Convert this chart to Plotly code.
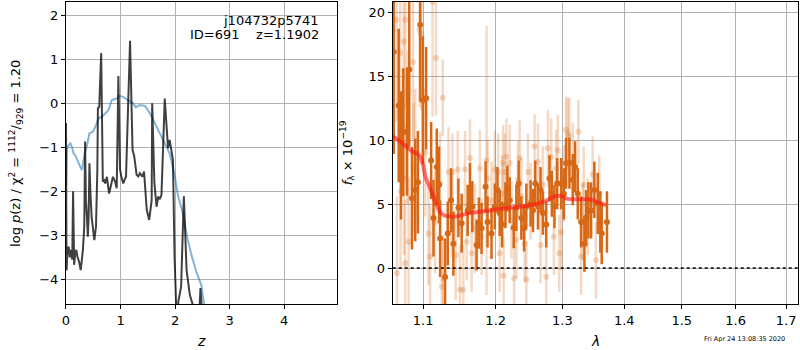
import plotly.graph_objects as go
import math

# ---------------- left panel: redshift PDF ----------------
z_pdf = [0.000, 0.010, 0.030, 0.050, 0.070, 0.090, 0.115, 0.130, 0.150, 0.170, 0.190, 0.210,
         0.240, 0.270, 0.310, 0.335, 0.350, 0.365, 0.385, 0.400, 0.415, 0.430, 0.450, 0.470,
         0.500, 0.520, 0.550, 0.575, 0.585, 0.610, 0.645, 0.675, 0.700, 0.720, 0.750, 0.790,
         0.820, 0.860, 0.900, 0.930, 0.960, 0.990, 1.020, 1.050, 1.080, 1.100, 1.174, 1.220,
         1.250, 1.265, 1.295, 1.325, 1.355, 1.400, 1.430, 1.450, 1.480, 1.525, 1.555, 1.570,
         1.580, 1.620, 1.660, 1.690, 1.720, 1.750, 1.810, 1.870, 1.900, 1.930, 1.960, 1.990,
         2.010, 2.030, 2.060, 2.090, 2.110, 2.160, 2.210, 2.270, 2.330, 2.380, 2.440, 2.465,
         2.490, 2.520, 2.600]
logp = [-0.45, -3.80, -3.30, -3.26, -3.50, -3.33, -3.55, -2.00, -3.67, -3.40, -3.33, -3.49,
        -3.60, -3.79, -3.33, -2.80, -0.87, -2.20, -2.60, -3.03, -2.60, -1.36, -2.10, -2.58,
        -2.90, -3.11, -2.80, -1.50, -0.11, -0.08, 1.14, -1.78, -1.75, -1.82, -1.67, -2.05,
        -1.89, -1.67, -1.78, -1.93, 0.62, -1.50, -1.70, -1.82, -1.72, -1.67, 1.42, -1.06,
        -1.20, -1.40, -1.63, -1.66, -1.59, -1.67, -1.55, -1.89, -2.42, -2.65, -2.40, -2.20,
        0.00, -1.80, -2.35, -2.12, -2.18, -2.08, 0.11, -1.02, -0.83, -1.10, -1.29, -3.50,
        -4.60, -5.00, -4.50, -4.24, -4.17, -2.11, -3.79, -4.36, -4.60, -4.80, -4.80, -4.20,
        -4.70, -6.00, -8.00]

z_prior = [0.000, 0.010, 0.020, 0.050, 0.080, 0.110, 0.140, 0.170, 0.200, 0.240, 0.290, 0.320,
           0.350, 0.380, 0.430, 0.490, 0.540, 0.600, 0.690, 0.780, 0.840, 0.930, 0.990, 1.050,
           1.140, 1.230, 1.280, 1.350, 1.450, 1.540, 1.660, 1.780, 1.900, 1.990, 2.050, 2.150,
           2.210, 2.300, 2.390, 2.480, 2.540, 2.570]
logp_prior = [-1.90, -1.30, -1.02, -0.95, -0.91, -1.00, -1.14, -1.18, -1.25, -1.38, -1.52, -1.30,
              -1.10, -0.99, -0.68, -0.65, -0.53, -0.34, -0.27, -0.15, 0.075, 0.11, 0.17, 0.14,
              0.075, 0.00, -0.09, -0.04, -0.06, -0.23, -0.53, -0.83, -1.14, -1.62, -2.08, -2.54,
              -2.99, -3.45, -3.83, -4.13, -4.55, -4.90]

left_xticks = [0, 1, 2, 3, 4]
left_yticks = [-4, -3, -2, -1, 0, 1, 2]

# ---------------- right panel: spectrum ----------------
wave_a = [1.0618, 1.0682, 1.0711, 1.0740, 1.0788, 1.0818, 1.0853, 1.0896, 1.0931, 1.0961,
          1.0996, 1.1039, 1.1106, 1.1137, 1.1181, 1.1212, 1.1226, 1.1293, 1.1329, 1.1374,
          1.1406, 1.1475, 1.1520, 1.1603, 1.1635, 1.1668, 1.1728, 1.1760, 1.1798, 1.1855,
          1.1883, 1.1940, 1.1987, 1.2025, 1.2058, 1.2093, 1.2141, 1.2170, 1.2203, 1.2262,
          1.2301, 1.2335, 1.2375, 1.2415, 1.2449, 1.2513, 1.2549, 1.2583, 1.2624, 1.2663,
          1.2699, 1.2749, 1.2800, 1.2836, 1.2876, 1.2918, 1.2980, 1.3022, 1.3057, 1.3109,
          1.3162, 1.3199, 1.3241, 1.3294, 1.3347, 1.3374, 1.3411, 1.3454, 1.3507, 1.3562,
          1.3604, 1.3627, 1.3713]
flux_a = [16.9, 12.7, 8.8, 10.6, 10.65, 15.5, 5.45, 6.1, 6.7, 19.0,
          13.1, 13.26, 8.4, 3.9, 7.9, 6.5, 2.3, -0.7, 2.7, 5.3,
          1.9, 4.7, 3.5, 4.5, 6.2, 4.8, 1.8, 3.5, 3.1, 6.35,
          3.6, 2.7, 4.8, 6.1, 4.3, 3.4, 4.9, 6.2, 5.3, 3.15,
          4.7, 6.6, 3.9, 3.1, 4.8, 5.05, 4.5, 6.6, 4.8, 6.1,
          4.3, 3.4, 7.0, 5.8, 4.8, 6.6, 6.6, 5.8, 8.2, 8.2,
          6.9, 7.9, 5.8, 3.6, 1.9, 3.9, 4.5, 4.5, 6.1, 5.05,
          3.6, 2.7, 3.6]
err_a = [8.0, 6.0, 5.0, 5.0, 5.0, 6.0, 4.0, 4.0, 4.0, 6.0,
         5.0, 4.0, 3.0, 3.0, 3.0, 3.0, 3.0, 3.0, 2.5, 2.5,
         2.5, 2.3, 2.3, 2.0, 2.0, 2.0, 2.0, 2.0, 2.0, 2.0,
         2.0, 2.0, 1.8, 1.8, 1.8, 1.8, 1.8, 1.8, 1.8, 1.6,
         1.8, 1.8, 1.7, 1.8, 1.8, 1.8, 1.7, 1.8, 1.8, 1.8,
         1.7, 1.8, 1.8, 1.8, 1.7, 2.0, 2.0, 2.0, 2.0, 2.0,
         2.0, 2.0, 2.0, 2.0, 2.2, 2.2, 2.2, 2.2, 2.2, 2.4,
         2.4, 2.4, 2.4]

wave_b = [1.0655, 1.0660, 1.0702, 1.0706, 1.0746, 1.0750, 1.0766, 1.0767, 1.0798, 1.0810,
          1.0866, 1.0875, 1.0896, 1.0953, 1.0974, 1.1026, 1.1071, 1.1092, 1.1124, 1.1159,
          1.1171, 1.1226, 1.1248, 1.1262, 1.1271, 1.1339, 1.1383, 1.1393, 1.1438, 1.1465,
          1.1496, 1.1543, 1.1566, 1.1589, 1.1635, 1.1658, 1.1705, 1.1774, 1.1798, 1.1869,
          1.1883, 1.1940, 1.1987, 1.2035, 1.2058, 1.2093, 1.2107, 1.2115, 1.2131, 1.2155,
          1.2203, 1.2228, 1.2268, 1.2301, 1.2325, 1.2350, 1.2375, 1.2424, 1.2449, 1.2474,
          1.2513, 1.2573, 1.2624, 1.2663, 1.2699, 1.2749, 1.2775, 1.2826, 1.2867, 1.2902,
          1.2928, 1.2950, 1.2980, 1.3022, 1.3057, 1.3083, 1.3109, 1.3162, 1.3252, 1.3294,
          1.3320, 1.3336, 1.3400, 1.3480, 1.3533, 1.3588]
flux_b = [19.4, -0.4, 16.8, 5.96, 17.7, 7.0, 0.37, 19.4, 11.0, 2.05,
          16.1, 7.9, 9.0, 18.6, 18.3, 9.0, 2.7, 0.9, 20.8, 3.6,
          16.4, 6.6, -1.46, 13.3, -0.9, 7.5, 4.3, 7.5, 1.0, 7.7,
          -1.7, -1.7, 7.7, 2.05, 8.6, 1.15, 3.1, 7.8, 2.45, 8.4,
          7.0, 5.3, 7.7, 7.5, 1.15, 5.8, 8.2, -0.6, 7.5, 8.7,
          8.2, 3.75, -0.8, 2.2, 6.9, 8.6, 5.6, 1.9, -0.9, 7.5,
          5.2, 9.5, 8.3, 1.8, 6.5, -0.7, 9.35, 8.7, 2.45, 7.8,
          9.2, 1.15, 2.8, 6.6, 10.8, 10.5, 10.3, 8.3, 10.65, 0.9,
          3.6, 6.5, 4.0, 7.3, 0.6, 5.8]
err_b = [8.0, 6.0, 8.0, 6.0, 7.0, 6.0, 5.0, 7.0, 6.0, 5.0,
         6.0, 5.0, 5.0, 6.0, 6.0, 5.0, 4.0, 4.0, 9.0, 4.0,
         4.5, 4.0, 3.5, 3.0, 3.5, 3.5, 3.5, 3.0, 3.5, 3.0,
         3.5, 3.5, 3.0, 3.0, 3.0, 3.0, 3.5, 3.0, 3.0, 10.5,
         3.0, 3.0, 3.0, 3.0, 3.0, 3.0, 3.0, 3.0, 3.0, 3.0,
         3.0, 3.0, 3.0, 3.0, 3.0, 3.0, 3.0, 3.0, 3.0, 3.0,
         3.0, 2.5, 3.0, 3.0, 3.0, 3.0, 3.0, 3.0, 3.0, 3.0,
         2.8, 3.0, 3.0, 3.0, 2.6, 2.8, 3.0, 3.0, 2.5, 3.0,
         3.0, 3.0, 3.0, 3.0, 3.0, 3.0]

wave_model = [1.0606, 1.0650, 1.0700, 1.0760, 1.0810, 1.0860, 1.0918, 1.0960, 1.1000, 1.1026,
              1.1080, 1.1137, 1.1180, 1.1226, 1.1270, 1.1316, 1.1406, 1.1500, 1.1608, 1.1750,
              1.1892, 1.2035, 1.2277, 1.2520, 1.2620, 1.2720, 1.2800, 1.2876, 1.2940, 1.2990,
              1.3030, 1.3080, 1.3186, 1.3350, 1.3454, 1.3560, 1.3620, 1.3697]
flux_model = [10.3, 10.1, 9.9, 9.6, 9.35, 9.1, 8.96, 8.7, 8.0, 7.2,
              6.4, 5.6, 4.9, 4.4, 4.15, 4.06, 4.0, 4.1, 4.27, 4.38,
              4.48, 4.6, 4.74, 4.92, 5.05, 5.2, 5.4, 5.57, 5.65, 5.62,
              5.5, 5.4, 5.37, 5.37, 5.33, 5.15, 5.05, 4.9]

right_xticks = [1.1, 1.2, 1.3, 1.4, 1.5, 1.6, 1.7]
right_xlabels = ["1.1", "1.2", "1.3", "1.4", "1.5", "1.6", "1.7"]
right_yticks = [0, 5, 10, 15, 20]

# ---------------- styling ----------------
W, H = 800, 350
FONT = "DejaVu Sans"
DARK = "rgb(214,104,22)"
LIGHT = "rgba(214,104,22,0.25)"

def px_x(p):
    return p / W

def px_y(p):
    return 1 - p / H

fig = go.Figure()

fig.add_trace(go.Scatter(x=z_prior, y=logp_prior, mode="lines",
                         line=dict(color="rgba(31,119,180,0.55)", width=2),
                         xaxis="x", yaxis="y", hoverinfo="skip"))
fig.add_trace(go.Scatter(x=z_pdf, y=logp, mode="lines",
                         line=dict(color="rgba(0,0,0,0.75)", width=2),
                         xaxis="x", yaxis="y", hoverinfo="skip"))

fig.add_trace(go.Scatter(x=wave_b, y=flux_b, mode="markers",
                         marker=dict(color=LIGHT, size=6, line=dict(width=0)),
                         error_y=dict(type="data", array=err_b, color=LIGHT, thickness=2.5, width=0),
                         xaxis="x2", yaxis="y2", hoverinfo="skip"))
fig.add_trace(go.Scatter(x=wave_a, y=flux_a, mode="markers",
                         marker=dict(color=DARK, size=6, line=dict(width=0)),
                         error_y=dict(type="data", array=err_a, color=DARK, thickness=2.5, width=0),
                         xaxis="x2", yaxis="y2", hoverinfo="skip"))
fig.add_trace(go.Scatter(x=wave_model, y=flux_model, mode="lines",
                         line=dict(color="rgba(255,20,20,0.6)", width=4, shape="spline"),
                         xaxis="x2", yaxis="y2", hoverinfo="skip"))

axis_common = dict(showline=True, mirror=True, linecolor="black", linewidth=1,
                   ticks="outside", ticklen=4, tickwidth=1, tickcolor="black",
                   showgrid=True, gridcolor="#b0b0b0", gridwidth=1, zeroline=False,
                   tickfont=dict(family=FONT, size=13, color="black"))

ydom = [px_y(304), px_y(1.5)]
fig.update_layout(
    width=W, height=H, margin=dict(l=0, r=0, t=0, b=0),
    paper_bgcolor="white", plot_bgcolor="white", showlegend=False,
    font=dict(family=FONT, size=13, color="black"),
    xaxis=dict(domain=[px_x(62.3), px_x(334.3)], range=[0, 4.96], tickvals=left_xticks,
               anchor="y", **axis_common),
    yaxis=dict(domain=ydom, range=[-4.561, 2.314], tickvals=left_yticks,
               anchor="x", **axis_common),
    xaxis2=dict(domain=[px_x(390.7), px_x(798)], type="log",
                range=[math.log10(1.0606), math.log10(1.7244)],
                tickvals=right_xticks, ticktext=right_xlabels, anchor="y2", **axis_common),
    yaxis2=dict(domain=ydom, range=[-2.81, 20.82], tickvals=right_yticks,
                anchor="x2", **axis_common),
)

fig.add_shape(type="line", xref="x2 domain", x0=0, x1=1, yref="y2", y0=0, y1=0,
              line=dict(color="black", width=1.6, dash="dot"))

ann = [
    dict(x=px_x(319), y=px_y(20), text="j104732p5741", xanchor="right", yanchor="middle",
         font=dict(size=13)),
    dict(x=px_x(319), y=px_y(35), text="ID=691    z=1.1902", xanchor="right", yanchor="middle",
         font=dict(size=13)),
    dict(x=px_x(198), y=px_y(341), text="<i>z</i>", xanchor="center", yanchor="middle",
         font=dict(size=14)),
    dict(x=px_x(594), y=px_y(341), text="<i>λ</i>", xanchor="center", yanchor="middle",
         font=dict(size=14)),
    dict(x=px_x(12), y=px_y(153), textangle=-90,
         text="log <i>p</i>(z) / χ<sup>2</sup> = <sup>1112</sup>/<sub>929</sub> = 1.20",
         xanchor="center", yanchor="middle", font=dict(size=13)),
    dict(x=px_x(345), y=px_y(153), textangle=-90,
         text="<i>f</i><sub>λ</sub> × 10<sup>−19</sup>",
         xanchor="center", yanchor="middle", font=dict(size=13)),
    dict(x=px_x(744), y=px_y(339), text="Fri Apr 24 13:08:35 2020", xanchor="center",
         yanchor="middle", font=dict(size=6.5)),
]
for a in ann:
    a.update(xref="paper", yref="paper", showarrow=False)
    fig.add_annotation(**a)

fig.write_html("out.html",
               config={"displayModeBar": False},
               post_script="document.body.style.margin='0';document.body.style.padding='0';"
                           "document.documentElement.style.overflow='hidden';")
